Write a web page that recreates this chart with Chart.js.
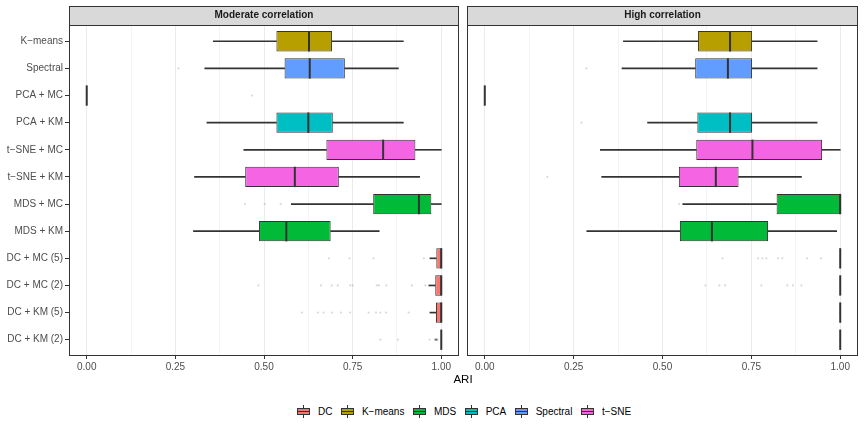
<!DOCTYPE html>
<html>
<head>
<meta charset="utf-8">
<script src="https://cdn.jsdelivr.net/npm/chart.js@4.4.1/dist/chart.umd.min.js"></script>
<style>
    body { margin: 0; background: #fff; font-family: "Liberation Sans", Arial, sans-serif; }
    #wrap { position: relative; width: 865px; height: 426px; overflow: hidden; }
    #leftChart { position: absolute; left: 0; top: 0; }
    #rightChart { position: absolute; left: 463px; top: 0; }
    #xTitle { position: absolute; left: 363px; width: 200px; top: 371px; text-align: center; font-size: 11.5px; line-height: 16px; color: #000; }
    #legend { position: absolute; left: 64px; width: 800px; top: 405px; height: 13px; display: flex; justify-content: center; align-items: center; font-size: 10px; color: #000; }
    .item { display: flex; align-items: center; margin: 0 4.25px; white-space: nowrap; }
    .key { position: relative; width: 13px; height: 13px; margin-right: 8px; }
    .key .box { position: absolute; left: 0; top: 3px; width: 13px; height: 7px; box-sizing: border-box; border: 1px solid #333; }
    .key .mid { position: absolute; left: 0; top: 6px; width: 13px; height: 1px; background: #333; }
    .key .wt, .key .wb { position: absolute; left: 6px; width: 1px; height: 3px; background: #333; }
    .key .wt { top: 0; }
    .key .wb { top: 10px; }
</style>
</head>
<body>
<div id="wrap">
    <canvas id="leftChart" width="463" height="372"></canvas>
    <canvas id="rightChart" width="402" height="372"></canvas>
    <div id="xTitle">ARI</div>
    <div id="legend"></div>
</div>
<script>
// Categories (top to bottom) and method of each
const categories = ['K−means', 'Spectral', 'PCA + MC', 'PCA + KM', 't−SNE + MC', 't−SNE + KM',
    'MDS + MC', 'MDS + KM', 'DC + MC (5)', 'DC + MC (2)', 'DC + KM (5)', 'DC + KM (2)'];
const methodNames = ['DC', 'K−means', 'MDS', 'PCA', 'Spectral', 't−SNE'];
const methodColors = ['#F8766D', '#B79F00', '#00BA38', '#00BFC4', '#619CFF', '#F564E3'];
const methodOf = [1, 4, 3, 3, 5, 5, 2, 2, 0, 0, 0, 0];

const xTicks = [0, 0.125, 0.25, 0.375, 0.5, 0.625, 0.75, 0.875, 1];

// Moderate correlation
const modLow  = [0.357, 0.333, 0.0, 0.339, 0.443, 0.304, 0.577, 0.301, 0.968, 0.965, 0.968, 1.0];
const modQ1   = [0.535, 0.558, 0.0, 0.535, 0.676, 0.447, 0.808, 0.486, 0.986, 0.983, 0.985, 1.0];
const modMed  = [0.627, 0.629, 0.0, 0.625, 0.836, 0.587, 0.937, 0.563, 1.0, 1.0, 1.0, 1.0];
const modQ3   = [0.692, 0.728, 0.0, 0.694, 0.927, 0.711, 0.972, 0.688, 1.0, 1.0, 1.0, 1.0];
const modHigh = [0.893, 0.879, 0.0, 0.893, 1.0, 0.939, 1.0, 0.825, 1.0, 1.0, 1.0, 1.0];
const modOut = [
    [], [0.259], [0.466], [], [], [], [0.446, 0.502, 0.547], [],
    [0.683, 0.741, 0.809, 0.951],
    [0.484, 0.661, 0.691, 0.708, 0.743, 0.750, 0.818, 0.824, 0.845, 0.917, 0.955],
    [0.607, 0.652, 0.668, 0.692, 0.717, 0.743, 0.795, 0.816, 0.828, 0.844, 0.908],
    [0.828, 0.878, 0.967, 0.982, 0.983, 0.984, 0.985, 0.986, 0.987, 0.988, 0.989]
];

// High correlation
const hiLow  = [0.390, 0.386, 0.0, 0.458, 0.325, 0.329, 0.557, 0.287, 1.0, 1.0, 1.0, 1.0];
const hiQ1   = [0.600, 0.592, 0.0, 0.598, 0.595, 0.546, 0.821, 0.549, 1.0, 1.0, 1.0, 1.0];
const hiMed  = [0.690, 0.684, 0.0, 0.690, 0.753, 0.650, 1.0, 0.639, 1.0, 1.0, 1.0, 1.0];
const hiQ3   = [0.752, 0.752, 0.0, 0.752, 0.949, 0.714, 1.0, 0.797, 1.0, 1.0, 1.0, 1.0];
const hiHigh = [0.935, 0.935, 0.0, 0.935, 1.0, 0.891, 1.0, 0.990, 1.0, 1.0, 1.0, 1.0];
const hiOut = [
    [], [0.286], [], [0.272], [], [0.176], [0.547], [],
    [0.669, 0.769, 0.781, 0.792, 0.825, 0.837, 0.907, 0.946],
    [0.621, 0.660, 0.676, 0.778, 0.851, 0.867, 0.891],
    [], []
];

const FONT = '"Liberation Sans", Arial, sans-serif';
const isMajor = v => Math.abs(v * 4 - Math.round(v * 4)) < 1e-9;

// strip, medians and panel border
const panelPlugin = {
    id: 'panelDeco',
    beforeDraw(chart) {
        const { left, right, top } = chart.chartArea;
        const ctx = chart.ctx;
        const l = Math.round(left), r = Math.round(right), t = Math.round(top);
        ctx.save();
        ctx.fillStyle = '#D9D9D9';
        ctx.fillRect(l, 6, r - l, t - 6);
        ctx.strokeStyle = '#333333';
        ctx.lineWidth = 1;
        ctx.strokeRect(l + 0.5, 6.5, r - l - 1, t - 6);
        ctx.restore();
    },
    afterDatasetsDraw(chart, args, opts) {
        const meta = chart.getDatasetMeta(0);
        const xs = chart.scales.x;
        const ctx = chart.ctx;
        ctx.save();
        ctx.strokeStyle = '#333333';
        ctx.lineWidth = 2;
        meta.data.forEach((bar, i) => {
            const px = xs.getPixelForValue(opts.medians[i]);
            ctx.beginPath();
            ctx.moveTo(px, bar.y - bar.height / 2);
            ctx.lineTo(px, bar.y + bar.height / 2);
            ctx.stroke();
        });
        ctx.restore();
    },
    afterDraw(chart) {
        const { left, right, top, bottom } = chart.chartArea;
        const ctx = chart.ctx;
        const l = Math.round(left), r = Math.round(right), t = Math.round(top), b = Math.round(bottom);
        ctx.save();
        ctx.strokeStyle = '#333333';
        ctx.lineWidth = 1;
        ctx.strokeRect(l + 0.5, t + 0.5, r - l - 1, b - t - 1);
        ctx.restore();
    }
};

function makePanel(canvasId, title, lo, q1, med, q3, hi, outl, showY, padding) {
    const boxColors = categories.map((c, i) => methodColors[methodOf[i]]);
    const outPoints = [];
    outl.forEach((arr, i) => arr.forEach(v => outPoints.push({ x: v, y: i })));

    return new Chart(document.getElementById(canvasId), {
        type: 'bar',
        data: {
            datasets: [
                {
                    label: 'box',
                    data: categories.map((c, i) => ({ y: i, x: [q1[i], q3[i]] })),
                    backgroundColor: boxColors,
                    borderColor: '#333333',
                    borderWidth: 1,
                    borderSkipped: false,
                    barPercentage: 0.75,
                    categoryPercentage: 1,
                    grouped: false
                },
                {
                    label: 'lower whisker',
                    data: categories.map((c, i) => ({ y: i, x: [lo[i], q1[i]] })),
                    backgroundColor: '#333333',
                    barThickness: 1,
                    grouped: false
                },
                {
                    label: 'upper whisker',
                    data: categories.map((c, i) => ({ y: i, x: [q3[i], hi[i]] })),
                    backgroundColor: '#333333',
                    barThickness: 1,
                    grouped: false
                },
                {
                    type: 'scatter',
                    label: 'outliers',
                    data: outPoints,
                    pointRadius: 1.1,
                    pointBorderWidth: 0,
                    backgroundColor: 'rgba(0,0,0,0.15)'
                }
            ]
        },
        options: {
            indexAxis: 'y',
            responsive: false,
            devicePixelRatio: 1,
            animation: false,
            events: [],
            layout: { padding: padding },
            scales: {
                x: {
                    type: 'linear',
                    min: -0.05,
                    max: 1.05,
                    offset: false,
                    afterBuildTicks: s => { s.ticks = xTicks.map(v => ({ value: v })); },
                    afterFit: s => { s.height = 16; },
                    ticks: {
                        autoSkip: false,
                        maxRotation: 0,
                        padding: 2,
                        color: '#4D4D4D',
                        font: { family: FONT, size: 10 },
                        callback: v => isMajor(v) ? v.toFixed(2) : ''
                    },
                    grid: {
                        offset: false,
                        color: c => (c.tick && isMajor(c.tick.value)) ? '#EBEBEB' : '#F4F4F4',
                        lineWidth: 1,
                        tickLength: 3,
                        tickColor: c => (c.tick && isMajor(c.tick.value)) ? '#333333' : 'rgba(0,0,0,0)'
                    },
                    border: { display: false }
                },
                y: {
                    type: 'linear',
                    min: -0.6,
                    max: 11.6,
                    reverse: true,
                    offset: false,
                    display: showY,
                    afterBuildTicks: s => { s.ticks = categories.map((c, i) => ({ value: i })); },
                    afterFit: s => { if (showY) s.width = 69; },
                    ticks: {
                        autoSkip: false,
                        padding: 2,
                        color: '#4D4D4D',
                        font: { family: FONT, size: 10 },
                        callback: v => categories[v]
                    },
                    grid: { offset: false, drawOnChartArea: false, tickLength: 4, color: '#333333' },
                    border: { display: false }
                }
            },
            plugins: {
                legend: { display: false },
                tooltip: { enabled: false },
                title: {
                    display: true,
                    text: title,
                    fullSize: false,
                    color: '#1A1A1A',
                    font: { family: FONT, size: 10, weight: 'bold', lineHeight: 1.2 },
                    padding: { top: 9.5, bottom: 3.5 }
                },
                panelDeco: { medians: med }
            }
        },
        plugins: [panelPlugin]
    });
}

makePanel('leftChart', 'Moderate correlation', modLow, modQ1, modMed, modQ3, modHigh, modOut, true,
    { left: 0, right: 2, top: 0, bottom: 0 });
makePanel('rightChart', 'High correlation', hiLow, hiQ1, hiMed, hiQ3, hiHigh, hiOut, false,
    { left: 3, right: 7, top: 0, bottom: 0 });

// Legend
const legendEl = document.getElementById('legend');
legendEl.innerHTML = methodNames.map((name, i) => `
    <div class="item">
        <div class="key">
            <div class="wt"></div>
            <div class="box" style="background:${methodColors[i]}"></div>
            <div class="mid"></div>
            <div class="wb"></div>
        </div>
        <span>${name}</span>
    </div>`).join('');
</script>
</body>
</html>
